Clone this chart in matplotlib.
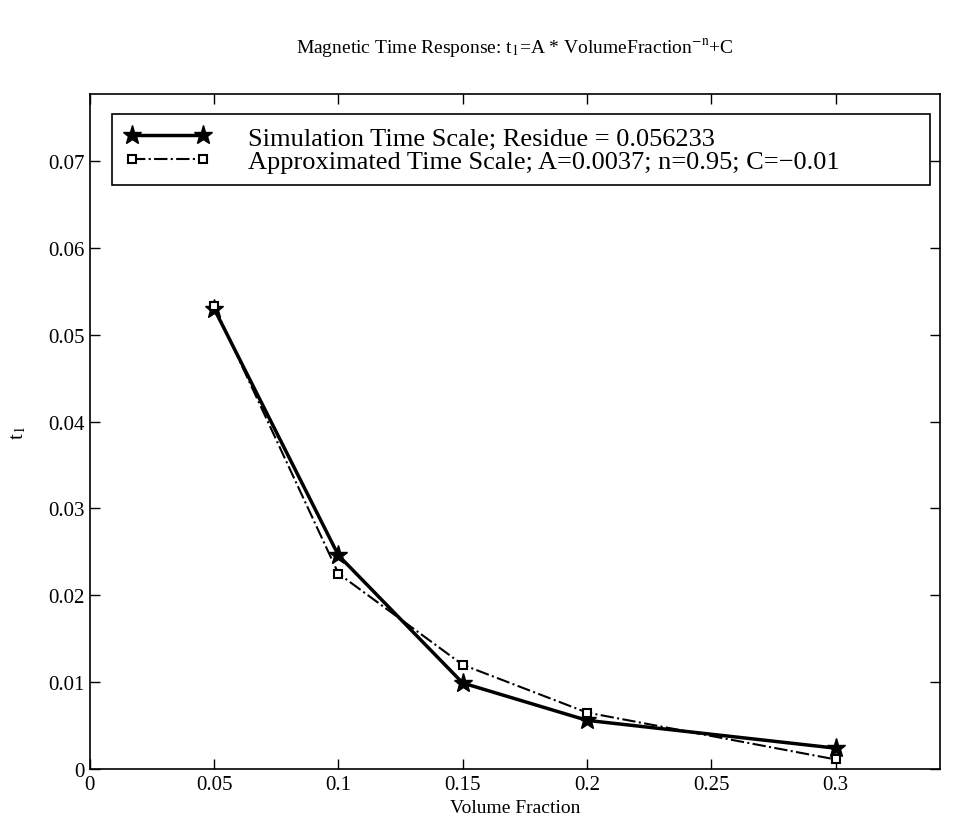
import matplotlib
matplotlib.use("Agg")
import matplotlib.pyplot as plt

plt.rcParams['font.family'] = ['Liberation Serif', 'DejaVu Serif']
plt.rcParams['mathtext.fontset'] = 'stix'

# values
vol_frac = [0.05, 0.1, 0.15, 0.2, 0.3]
t_sim = [0.0530, 0.0246, 0.0099, 0.0056, 0.0024]
t_approx = [0.0533, 0.0225, 0.0120, 0.0065, 0.0011]

x_ticks = [0, 0.05, 0.1, 0.15, 0.2, 0.25, 0.3]
x_labels = ['0', '0.05', '0.1', '0.15', '0.2', '0.25', '0.3']
y_ticks = [0, 0.01, 0.02, 0.03, 0.04, 0.05, 0.06, 0.07]
y_labels = ['0', '0.01', '0.02', '0.03', '0.04', '0.05', '0.06', '0.07']

fig = plt.figure(figsize=(9.66, 8.2), dpi=100)
ax = fig.add_axes([0.093, 0.061, 0.88, 0.823])

ax.plot(vol_frac, t_sim, 'k-', marker='*', ms=14, lw=2.5,
        label='Simulation Time Scale; Residue = 0.056233')
ax.plot(vol_frac, t_approx, 'k-.', marker='s', ms=6, mfc='white', mew=1.5,
        lw=1.5, label='Approximated Time Scale; A=0.0037; n=0.95; C=\u22120.01')

ax.set_xlim(0, 0.342)
ax.set_ylim(0, 0.0777)
ax.set_xticks(x_ticks)
ax.set_xticklabels(x_labels)
ax.set_yticks(y_ticks)
ax.set_yticklabels(y_labels)
ax.tick_params(direction='in', length=7, width=1, top=True, right=True,
               labelsize=15, pad=4)
for s in ax.spines.values():
    s.set_linewidth(1.2)

ax.set_xlabel('Volume Fraction', fontsize=14, labelpad=4)
ax.set_ylabel('t$_1$', fontsize=15, labelpad=14)
ax.set_title('Magnetic Time Response: t$_1$=A * VolumeFraction$^{-\\mathrm{n}}$+C',
             fontsize=14, pad=30)

leg = ax.legend(loc='upper left', bbox_to_anchor=(0.026, 0.872, 0.962, 0.098),
                mode='expand', numpoints=2, fontsize=19, frameon=True,
                fancybox=False, handlelength=3.3, handletextpad=1.4,
                borderaxespad=0, borderpad=0.45, labelspacing=0.0)
leg.get_frame().set_edgecolor('black')
leg.get_frame().set_linewidth(1.2)
leg.get_frame().set_alpha(1)

fig.savefig('out.png', dpi=100)
